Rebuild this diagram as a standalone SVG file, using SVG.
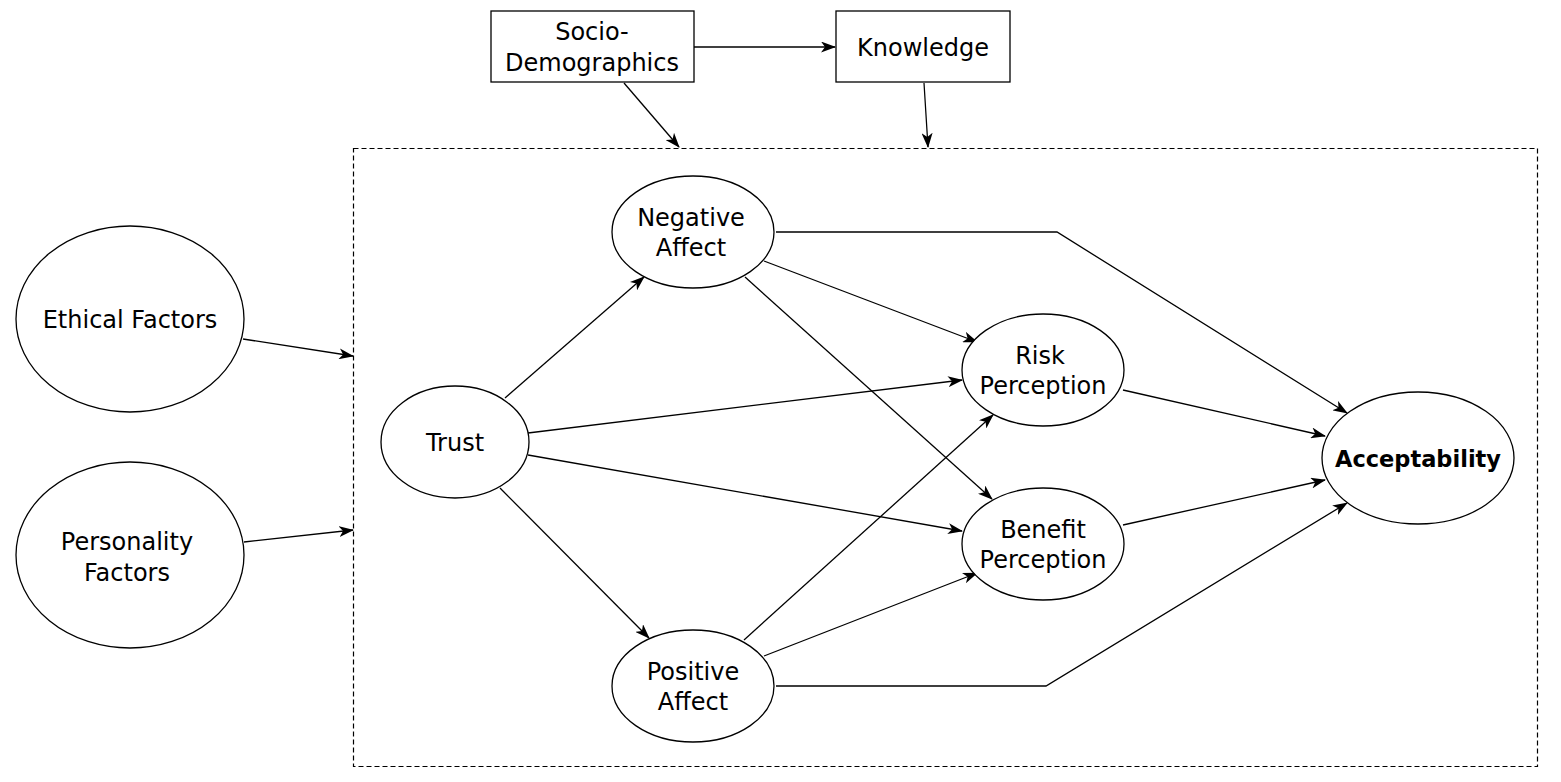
<svg xmlns="http://www.w3.org/2000/svg" width="1561" height="782" viewBox="0 0 1561 782">
<defs>
<marker id="arr" markerWidth="15" markerHeight="11" refX="14" refY="5.5" orient="auto" markerUnits="userSpaceOnUse">
<path d="M0,0 L15,5.5 L0,11 L4,5.5 Z" fill="#000"/>
</marker>
</defs>
<style>
.n{fill:#fff;stroke:#000;stroke-width:1.3}
.t{font-family:"DejaVu Sans",Verdana,sans-serif;font-size:24px;fill:#000;text-anchor:middle}
.b{font-weight:bold;font-size:22.5px}
.e{fill:none;stroke:#000;stroke-width:1.3;marker-end:url(#arr)}
</style>
<rect width="1561" height="782" fill="#fff"/>
<rect id="frame" x="353.5" y="148.5" width="1184" height="618" fill="none" stroke="#000" stroke-width="1.2" stroke-dasharray="5,3"/>
<g id="connectors">
<path class="e" d="M694,47 L835,47"/>
<path class="e" d="M624,83 L679,147"/>
<path class="e" d="M924,83 L928,147"/>
<path class="e" d="M243,339 L353,356"/>
<path class="e" d="M244,542 L353,530"/>
<path class="e" d="M505,398 L644,277"/>
<path class="e" d="M528,433 L962,380"/>
<path class="e" d="M528,455 L962,531"/>
<path class="e" d="M500,488 L649,638"/>
<path class="e" d="M764,261 L977,342"/>
<path class="e" d="M745,277 L992,499"/>
<path class="e" d="M776,232 L1057,232 L1347,413"/>
<path class="e" d="M744,640 L993,415"/>
<path class="e" d="M764,656 L977,573"/>
<path class="e" d="M776,686 L1046,686 L1347,503"/>
<path class="e" d="M1123,390 L1325,436"/>
<path class="e" d="M1123,525 L1325,480"/>
</g>
<g id="socio"><rect class="n" x="491" y="11" width="203" height="71"/><text class="t" x="592" y="40">Socio-</text><text class="t" x="592" y="71">Demographics</text></g>
<g id="knowledge"><rect class="n" x="836" y="11" width="174" height="71"/><text class="t" x="923" y="56">Knowledge</text></g>
<g id="ethical"><ellipse class="n" cx="130" cy="319" rx="114" ry="93"/><text class="t" x="130" y="328">Ethical Factors</text></g>
<g id="personality"><ellipse class="n" cx="130" cy="555" rx="114" ry="93"/><text class="t" x="127" y="550">Personality</text><text class="t" x="127" y="581">Factors</text></g>
<g id="trust"><ellipse class="n" cx="455" cy="442" rx="74" ry="56"/><text class="t" x="455" y="451">Trust</text></g>
<g id="negaffect"><ellipse class="n" cx="693" cy="232" rx="81" ry="56"/><text class="t" x="691" y="226">Negative</text><text class="t" x="691" y="256">Affect</text></g>
<g id="posaffect"><ellipse class="n" cx="693" cy="686" rx="81" ry="56"/><text class="t" x="693" y="680">Positive</text><text class="t" x="693" y="710">Affect</text></g>
<g id="risk"><ellipse class="n" cx="1043" cy="370" rx="81" ry="56"/><text class="t" x="1040" y="364">Risk</text><text class="t" x="1043" y="394">Perception</text></g>
<g id="benefit"><ellipse class="n" cx="1043" cy="544" rx="81" ry="56"/><text class="t" x="1043" y="538">Benefit</text><text class="t" x="1043" y="568">Perception</text></g>
<g id="accept"><ellipse class="n" cx="1418" cy="458" rx="96" ry="66"/><text class="t b" x="1418" y="467">Acceptability</text></g>
</svg>
